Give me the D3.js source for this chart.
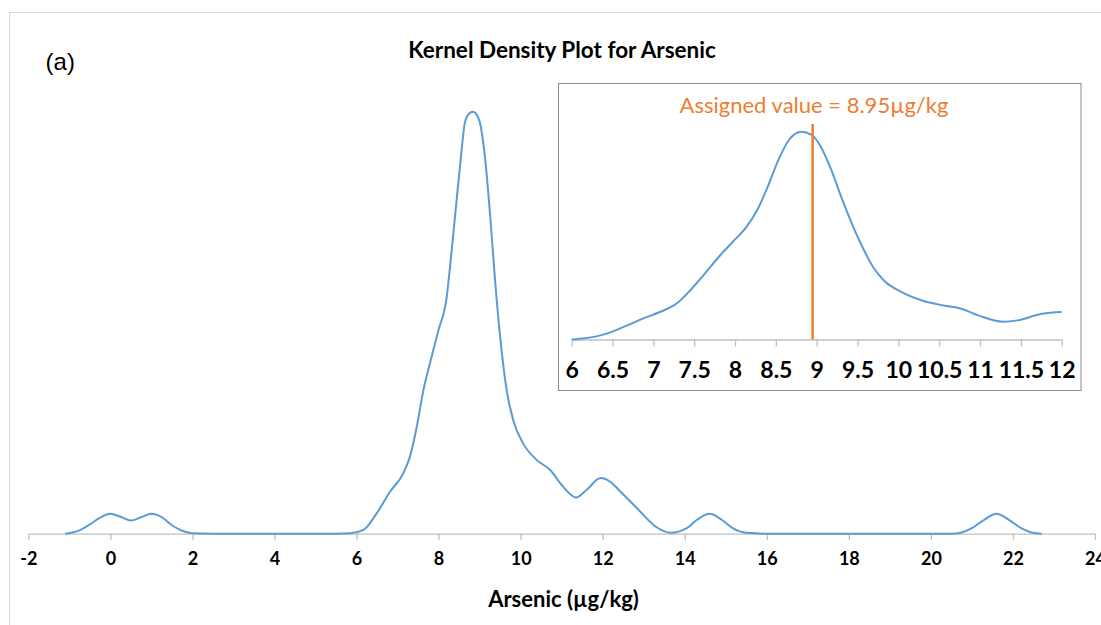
<!DOCTYPE html>
<html>
<head>
<meta charset="utf-8">
<script src="https://cdn.jsdelivr.net/npm/d3@7/dist/d3.min.js"></script>
<style>
  html, body { margin: 0; padding: 0; background: #fff; }
  svg { display: block; }
</style>
</head>
<body>
<script>
// Kernel density estimate of arsenic results (relative density, peak = 1)
const kdeX = [-1.1, -0.8, -0.5, -0.25, 0.0, 0.25, 0.5, 0.75, 1.0, 1.25, 1.5, 1.75, 2.0, 2.5,
  5.5, 5.85, 6.17, 6.49, 6.82, 7.14, 7.30, 7.47, 7.63, 7.79, 8.0, 8.20, 8.28, 8.40, 8.53, 8.64,
  8.74, 8.84, 8.93, 9.01, 9.13, 9.26, 9.37, 9.50, 9.66, 9.82, 10.06, 10.39, 10.72, 11.04, 11.35,
  11.61, 11.95, 12.2, 12.43, 12.86, 13.29, 13.65, 14.05, 14.3, 14.61, 14.9, 15.17, 15.5, 16.0,
  20.5, 20.75, 21.0, 21.3, 21.6, 21.9, 22.2, 22.45, 22.7];
const kdeY = [0, 0.006, 0.022, 0.038, 0.047, 0.040, 0.031, 0.039, 0.047, 0.039, 0.020, 0.007, 0.001, 0,
  0, 0.001, 0.009, 0.048, 0.100, 0.143, 0.182, 0.254, 0.340, 0.404, 0.483, 0.562, 0.633, 0.751, 0.878, 0.973,
  0.995, 1.0, 0.993, 0.973, 0.893, 0.751, 0.609, 0.467, 0.340, 0.269, 0.214, 0.175, 0.151, 0.111, 0.086,
  0.104, 0.132, 0.122, 0.100, 0.058, 0.017, 0.002, 0.013, 0.033, 0.047, 0.033, 0.013, 0.002, 0,
  0, 0.003, 0.013, 0.033, 0.047, 0.033, 0.013, 0.003, 0];

// Close-up of the central region, 6–12 µg/kg
const zoomX = [6.00, 6.16, 6.42, 6.68, 6.90, 7.11, 7.28, 7.45, 7.63, 7.80, 7.97, 8.14, 8.27, 8.40,
  8.53, 8.66, 8.81, 8.94, 9.05, 9.18, 9.30, 9.43, 9.56, 9.69, 9.82, 10.04, 10.29, 10.55, 10.77,
  10.98, 11.28, 11.46, 11.76, 12.0];
const zoomY = [0, 0.006, 0.027, 0.068, 0.105, 0.137, 0.172, 0.236, 0.317, 0.397, 0.469, 0.542, 0.622, 0.735,
  0.863, 0.960, 1.0, 0.984, 0.928, 0.815, 0.686, 0.558, 0.445, 0.349, 0.285, 0.228, 0.188, 0.164, 0.148,
  0.116, 0.086, 0.092, 0.124, 0.132];

const mainTicks = [-2, 0, 2, 4, 6, 8, 10, 12, 14, 16, 18, 20, 22, 24];
const zoomTicks = [6, 6.5, 7, 7.5, 8, 8.5, 9, 9.5, 10, 10.5, 11, 11.5, 12];
const assignedValue = 8.95;

const W = 1101, H = 625;
const blue = "#5b9bd5", orange = "#ed7d31";
const font = "Lato, 'Open Sans', sans-serif";

const svg = d3.select("body").append("svg").attr("width", W).attr("height", H);

// chart area frame (runs past the right and bottom edges)
svg.append("rect")
  .attr("x", 9.5).attr("y", 12.5).attr("width", 1200).attr("height", 700)
  .attr("fill", "#fff").attr("stroke", "#d9d9d9").attr("stroke-width", 1);

// ---- main density plot ----
const x = d3.scaleLinear().domain([-2, 24]).range([28.3, 1095]);
const y = d3.scaleLinear().domain([0, 1]).range([533.7, 111.7]);

const mainAxis = svg.append("g")
  .attr("transform", `translate(0,${y(0)})`)
  .call(d3.axisBottom(x).tickValues(mainTicks).tickFormat(d => String(d)).tickSize(6).tickSizeOuter(0));
mainAxis.select(".domain").attr("stroke", "#bfbfbf").attr("stroke-width", 1.3);
mainAxis.selectAll(".tick line").attr("stroke", "#bfbfbf").attr("stroke-width", 1.3);
mainAxis.selectAll(".tick text")
  .attr("y", 31.8).attr("dy", 0)
  .attr("fill", "#000").style("font-family", font).style("font-weight", 700).style("font-size", "18px");

const line = d3.line().x(d => x(d[0])).y(d => y(d[1])).curve(d3.curveMonotoneX);
svg.append("path")
  .datum(d3.zip(kdeX, kdeY))
  .attr("d", line)
  .attr("fill", "none").attr("stroke", blue).attr("stroke-width", 2);

svg.append("text")
  .attr("x", 562).attr("y", 57.5).attr("text-anchor", "middle")
  .style("font-family", font).style("font-weight", 700).style("font-size", "22.5px")
  .text("Kernel Density Plot for Arsenic");

svg.append("text")
  .attr("x", 563.5).attr("y", 607).attr("text-anchor", "middle")
  .style("font-family", font).style("font-weight", 700).style("font-size", "22px")
  .text("Arsenic (µg/kg)");

svg.append("text")
  .attr("x", 45.6).attr("y", 70).attr("text-anchor", "start")
  .style("font-family", "'Liberation Sans', Arial, sans-serif").style("font-size", "24px")
  .text("(a)");

// ---- inset close-up ----
svg.append("rect")
  .attr("x", 558.5).attr("y", 83.5).attr("width", 522.5).attr("height", 307)
  .attr("fill", "#fff").attr("stroke", "#8c8c8c").attr("stroke-width", 1);

const xi = d3.scaleLinear().domain([6, 12]).range([571.7, 1061.7]);
const yi = d3.scaleLinear().domain([0, 1]).range([339.5, 131.7]);

const insetAxis = svg.append("g")
  .attr("transform", `translate(0,${yi(0)})`)
  .call(d3.axisBottom(xi).tickValues(zoomTicks).tickFormat(d => String(d)).tickSize(7).tickSizeOuter(0));
insetAxis.select(".domain").attr("stroke", "#bfbfbf").attr("stroke-width", 1.3);
insetAxis.selectAll(".tick line").attr("stroke", "#bfbfbf").attr("stroke-width", 1.3);
insetAxis.selectAll(".tick text")
  .attr("y", 38).attr("dy", 0)
  .attr("fill", "#000").style("font-family", font).style("font-weight", 700).style("font-size", "23px");

const lineI = d3.line().x(d => xi(d[0])).y(d => yi(d[1])).curve(d3.curveMonotoneX);
svg.append("path")
  .datum(d3.zip(zoomX, zoomY))
  .attr("d", lineI)
  .attr("fill", "none").attr("stroke", blue).attr("stroke-width", 2);

svg.append("line")
  .attr("x1", xi(assignedValue)).attr("x2", xi(assignedValue))
  .attr("y1", 124).attr("y2", yi(0))
  .attr("stroke", orange).attr("stroke-width", 2.5);

svg.append("text")
  .attr("x", 814).attr("y", 113.3).attr("text-anchor", "middle")
  .attr("fill", orange)
  .style("font-family", font).style("font-size", "22px")
  .text(`Assigned value = ${assignedValue}µg/kg`);
</script>
</body>
</html>
